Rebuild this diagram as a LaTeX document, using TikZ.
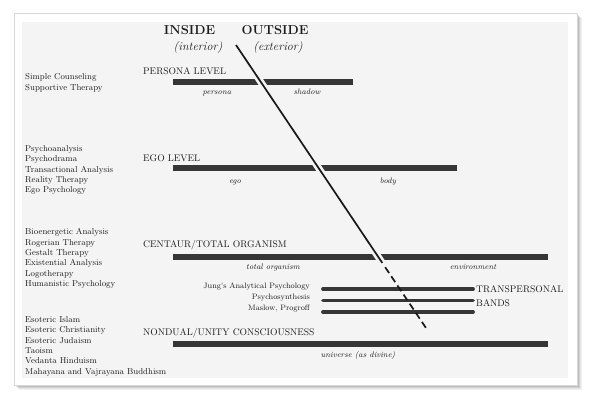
\documentclass[tikz,border=0pt]{standalone}
\usepackage{xcolor}
\definecolor{inkGrey}{HTML}{1C1C1C}
\definecolor{barGrey}{HTML}{363636}
\definecolor{paperGrey}{HTML}{F4F4F4}
\definecolor{edgeGrey}{HTML}{D8D8D8}
\usepackage{tikz}
\usetikzlibrary{positioning}
\usetikzlibrary{calc}
\tikzset{
	bar/.style = {draw = barGrey, line width = 5.5pt},
	band/.style = {draw = barGrey, line width = 3.8pt, line cap = round},
	slash/.style = {draw = black!90, line width = 1.7pt},
	heading/.style = {font = \bfseries\fontsize{13}{15}\selectfont, text = inkGrey, inner sep = 0pt},
	side/.style = {font = \itshape\fontsize{12}{14}\selectfont, text = inkGrey, inner sep = 0pt},
	level/.style = {font = \fontsize{9.6}{11}\selectfont, text = inkGrey, anchor = west, inner sep = 0pt},
	school/.style = {font = \fontsize{8.6}{10.3}\selectfont, text = inkGrey, anchor = north west, align = left, inner sep = 0pt},
	pole/.style = {font = \itshape\fontsize{8}{10}\selectfont, text = inkGrey, anchor = base, inner sep = 0pt},
	bandlabel/.style = {font = \fontsize{7.8}{9}\selectfont, text = inkGrey, anchor = east, inner sep = 0pt}
}

\begin{document}
\begin{tikzpicture}[x = 1pt, y = -1pt]
	\useasboundingbox (0, 0) rectangle (600, 396);

	%% Card
	\foreach \o/\op in {5/0.05, 4/0.06, 3/0.08, 2/0.1, 1/0.12}
		\fill[black, opacity = \op] (14 + \o, 13 + \o) rectangle (577 + \o, 385 + \o);
	\fill[white, draw = edgeGrey] (14, 13) rectangle (577, 385);
	\fill[paperGrey] (22, 22) rectangle (568, 378);

	%% Header
	\node[heading] (inside) at (189.5, 30.5) {INSIDE};
	\node[heading] (outside) at (275, 30.5) {OUTSIDE};
	\node[side] (interior) at (198, 48) {(interior)};
	\node[side] (exterior) at (278, 48) {(exterior)};

	%% Persona level
	\node[school] (simple) at (25, 73.5) {Simple Counseling\\Supportive Therapy};
	\node[level] (personalevel) at (143, 71) {PERSONA LEVEL};
	\coordinate (personaL) at (173, 82);
	\coordinate (personaR) at (353, 82);
	\draw[bar] (personaL) -- (personaR);
	\node[pole] (persona) at (217, 95) {persona};
	\node[pole] (shadow) at (307, 95) {shadow};

	%% Ego level
	\node[school] (psycho) at (25, 145.5) {Psychoanalysis\\Psychodrama\\Transactional Analysis\\Reality Therapy\\Ego Psychology};
	\node[level] (egolevel) at (143, 158) {EGO LEVEL};
	\coordinate (egoL) at (173, 168);
	\coordinate (egoR) at (457, 168);
	\draw[bar] (egoL) -- (egoR);
	\node[pole] (ego) at (235, 183) {ego};
	\node[pole] (body) at (388, 183) {body};

	%% Centaur level
	\node[school] (bio) at (25, 228.5) {Bioenergetic Analysis\\Rogerian Therapy\\Gestalt Therapy\\Existential Analysis\\Logotherapy\\Humanistic Psychology};
	\node[level] (centaurlevel) at (143, 245) {CENTAUR/TOTAL ORGANISM};
	\coordinate (centaurL) at (173, 257);
	\coordinate (centaurR) at (548, 257);
	\draw[bar] (centaurL) -- (centaurR);
	\node[pole] (organism) at (273, 269) {total organism};
	\node[pole] (environment) at (473, 269) {environment};

	%% Transpersonal bands
	\node[bandlabel] (jung) at (310, 287) {Jung's Analytical Psychology};
	\node[bandlabel] (synthesis) at (310, 298) {Psychosynthesis};
	\node[bandlabel] (maslow) at (310, 308.5) {Maslow, Progroff};
	\foreach \y [count = \i] in {289, 300.5, 312} {
		\coordinate (band\i L) at (323, \y);
		\coordinate (band\i R) at (473, \y);
		\draw[band] (band\i L) -- (band\i R);
	}
	\node[level] (transpersonal) at (476, 289) {TRANSPERSONAL};
	\node[level] (bands) at (476, 303) {BANDS};

	%% Nondual level
	\node[school] (esoteric) at (25, 316.5) {Esoteric Islam\\Esoteric Christianity\\Esoteric Judaism\\Taoism\\Vedanta Hinduism\\Mahayana and Vajrayana Buddhism};
	\node[level] (nonduallevel) at (143, 333) {NONDUAL/UNITY CONSCIOUSNESS};
	\coordinate (nondualL) at (173, 344);
	\coordinate (nondualR) at (548, 344);
	\draw[bar] (nondualL) -- (nondualR);
	\node[pole] (universe) at (358, 357.5) {universe (as divine)};

	%% Inside / outside divide
	\coordinate (slashTop) at (236, 45);
	\coordinate (slashEnd) at (426, 328);
	\draw[draw = paperGrey, line width = 7pt] (slashTop) -- ($(slashTop)!0.77!(slashEnd)$);
	\draw[slash] (slashTop) -- ($(slashTop)!0.77!(slashEnd)$);
	\draw[slash, dash pattern = on 7pt off 4pt] ($(slashTop)!0.785!(slashEnd)$) -- (slashEnd);

\end{tikzpicture}
\end{document}
